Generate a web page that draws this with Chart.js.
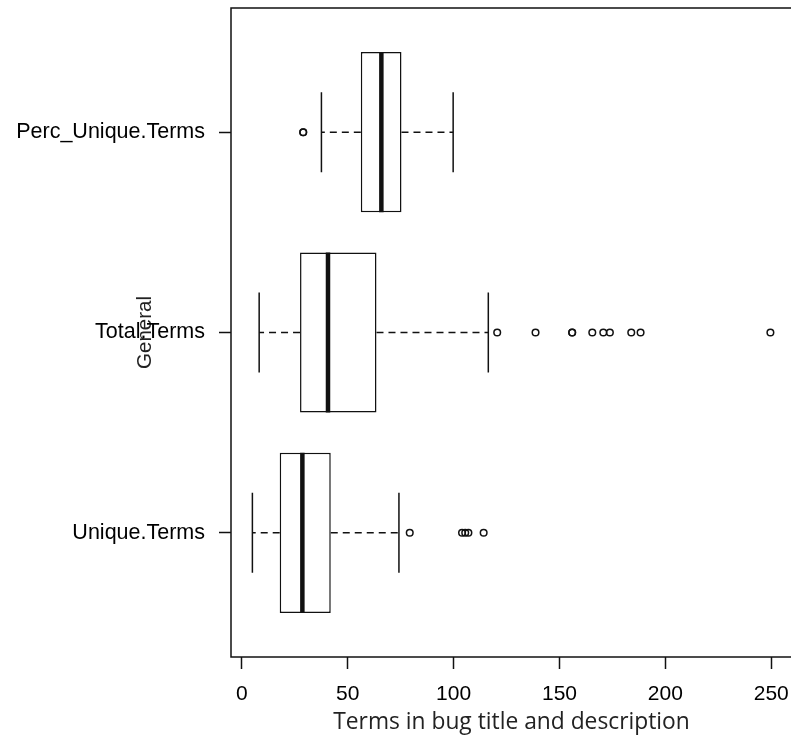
<!DOCTYPE html>
<html>
<head>
<meta charset="utf-8">
<script src="https://cdn.jsdelivr.net/npm/chart.js@4/dist/chart.umd.min.js"></script>
<style>
  html, body { margin: 0; padding: 0; background: #fff; overflow: hidden; }
  #wrap { width: 800px; height: 749px; }
</style>
</head>
<body>
<div id="wrap"><canvas id="boxChart" width="800" height="749"></canvas></div>
<script>
// ── data ──────────────────────────────────────────────────────────────────
const categories  = ['Unique.Terms', 'Total.Terms', 'Perc_Unique.Terms'];   // bottom → top
const whiskerLow  = [5, 8.2, 37.6];
const q1          = [17.9, 27.5, 56.2];
const median      = [28.6, 40.7, 65.9];
const q3          = [42.0, 63.6, 75.4];
const whiskerHigh = [74.2, 116.4, 99.8];
const outliers    = [
  [79.3, 104, 105.5, 107, 114.2],
  [120.6, 138.7, 156, 156, 165.5, 170.7, 173.8, 183.9, 188.3, 249.6],
  [29, 29]
];
const xTicks = [0, 50, 100, 150, 200, 250];

const INK = '#111';

// no automatic label padding: keep the plot box where R puts it
const noPad = s => { s.paddingTop = 0; s.paddingBottom = 0; s.paddingLeft = 0; s.paddingRight = 0; };

// ── boxplot extras: whiskers, staples, medians, frame ─────────────────────
const boxExtras = {
  id: 'boxExtras',
  afterDatasetsDraw(chart) {
    const { ctx, chartArea, scales: { x, y } } = chart;
    ctx.save();
    ctx.strokeStyle = INK;
    categories.forEach((c, i) => {
      const pos = i + 1;
      const yc = y.getPixelForValue(pos);
      const sTop = y.getPixelForValue(pos + 0.2), sBot = y.getPixelForValue(pos - 0.2);
      const bTop = y.getPixelForValue(pos + 0.4), bBot = y.getPixelForValue(pos - 0.4);
      // dashed whiskers
      ctx.lineWidth = 1.6;
      ctx.setLineDash([7, 5]);
      ctx.beginPath();
      ctx.moveTo(x.getPixelForValue(q1[i]), yc);
      ctx.lineTo(x.getPixelForValue(whiskerLow[i]), yc);
      ctx.moveTo(x.getPixelForValue(q3[i]), yc);
      ctx.lineTo(x.getPixelForValue(whiskerHigh[i]), yc);
      ctx.stroke();
      // staples
      ctx.setLineDash([]);
      ctx.lineWidth = 1.5;
      ctx.beginPath();
      [whiskerLow[i], whiskerHigh[i]].forEach(v => {
        const px = x.getPixelForValue(v);
        ctx.moveTo(px, sTop);
        ctx.lineTo(px, sBot);
      });
      ctx.stroke();
      // median
      ctx.lineWidth = 4.5;
      ctx.beginPath();
      const mx = x.getPixelForValue(median[i]);
      ctx.moveTo(mx, bTop);
      ctx.lineTo(mx, bBot);
      ctx.stroke();
    });
    // plot frame
    ctx.lineWidth = 1.5;
    ctx.strokeRect(chartArea.left, chartArea.top, chartArea.right - chartArea.left, chartArea.bottom - chartArea.top);
    ctx.restore();
  }
};

const outlierPoints = [];
outliers.forEach((vals, i) => vals.forEach(v => outlierPoints.push({ x: v, y: i + 1 })));

new Chart(document.getElementById('boxChart'), {
  type: 'bar',
  data: {
    datasets: [
      {
        label: 'box',
        data: categories.map((c, i) => ({ y: i + 1, x: [q1[i], q3[i]] })),
        backgroundColor: '#fff',
        borderColor: INK,
        borderWidth: 1.5,
        borderSkipped: false,
        barPercentage: 0.8,
        categoryPercentage: 1.0
      },
      {
        type: 'scatter',
        label: 'outliers',
        data: outlierPoints,
        pointRadius: 3.3,
        pointBorderWidth: 1.5,
        pointBackgroundColor: 'rgba(0,0,0,0)',
        pointBorderColor: INK
      }
    ]
  },
  options: {
    indexAxis: 'y',
    responsive: false,
    animation: false,
    layout: { padding: { top: 8, right: 8, left: 0, bottom: 0 } },
    plugins: { legend: { display: false }, tooltip: { enabled: false } },
    scales: {
      x: {
        type: 'linear',
        min: -5.1,
        max: 259.8,
        offset: false,
        afterBuildTicks: s => { s.ticks = xTicks.map(v => ({ value: v })); },
        afterFit: s => { s.height = 92; noPad(s); },
        grid: { offset: false, drawOnChartArea: false, tickLength: 12, tickColor: INK, tickWidth: 1.5 },
        border: { display: false },
        ticks: { color: '#000', padding: 13, maxRotation: 0, font: { family: 'Liberation Sans', size: 21 } },
        title: {
          display: true,
          text: 'Terms in bug title and description',
          color: '#222',
          font: { family: 'Open Sans', size: 22.8 },
          padding: { top: 0, bottom: 13 }
        }
      },
      y: {
        type: 'linear',
        min: 0.38,
        max: 3.62,
        offset: false,
        afterBuildTicks: s => { s.ticks = categories.map((c, i) => ({ value: i + 1 })); },
        afterFit: s => { s.width = 231; noPad(s); },
        grid: { offset: false, drawOnChartArea: false, tickLength: 12, tickColor: INK, tickWidth: 1.5 },
        border: { display: false },
        ticks: {
          color: '#000',
          padding: 14,
          font: { family: 'Liberation Sans', size: 21.5 },
          callback: v => categories[v - 1]
        },
        title: {
          display: true,
          text: 'General',
          color: '#222',
          font: { family: 'Liberation Sans', size: 20.5 },
          padding: { top: 133, bottom: 0 }
        }
      }
    }
  },
  plugins: [boxExtras]
});
</script>
</body>
</html>
